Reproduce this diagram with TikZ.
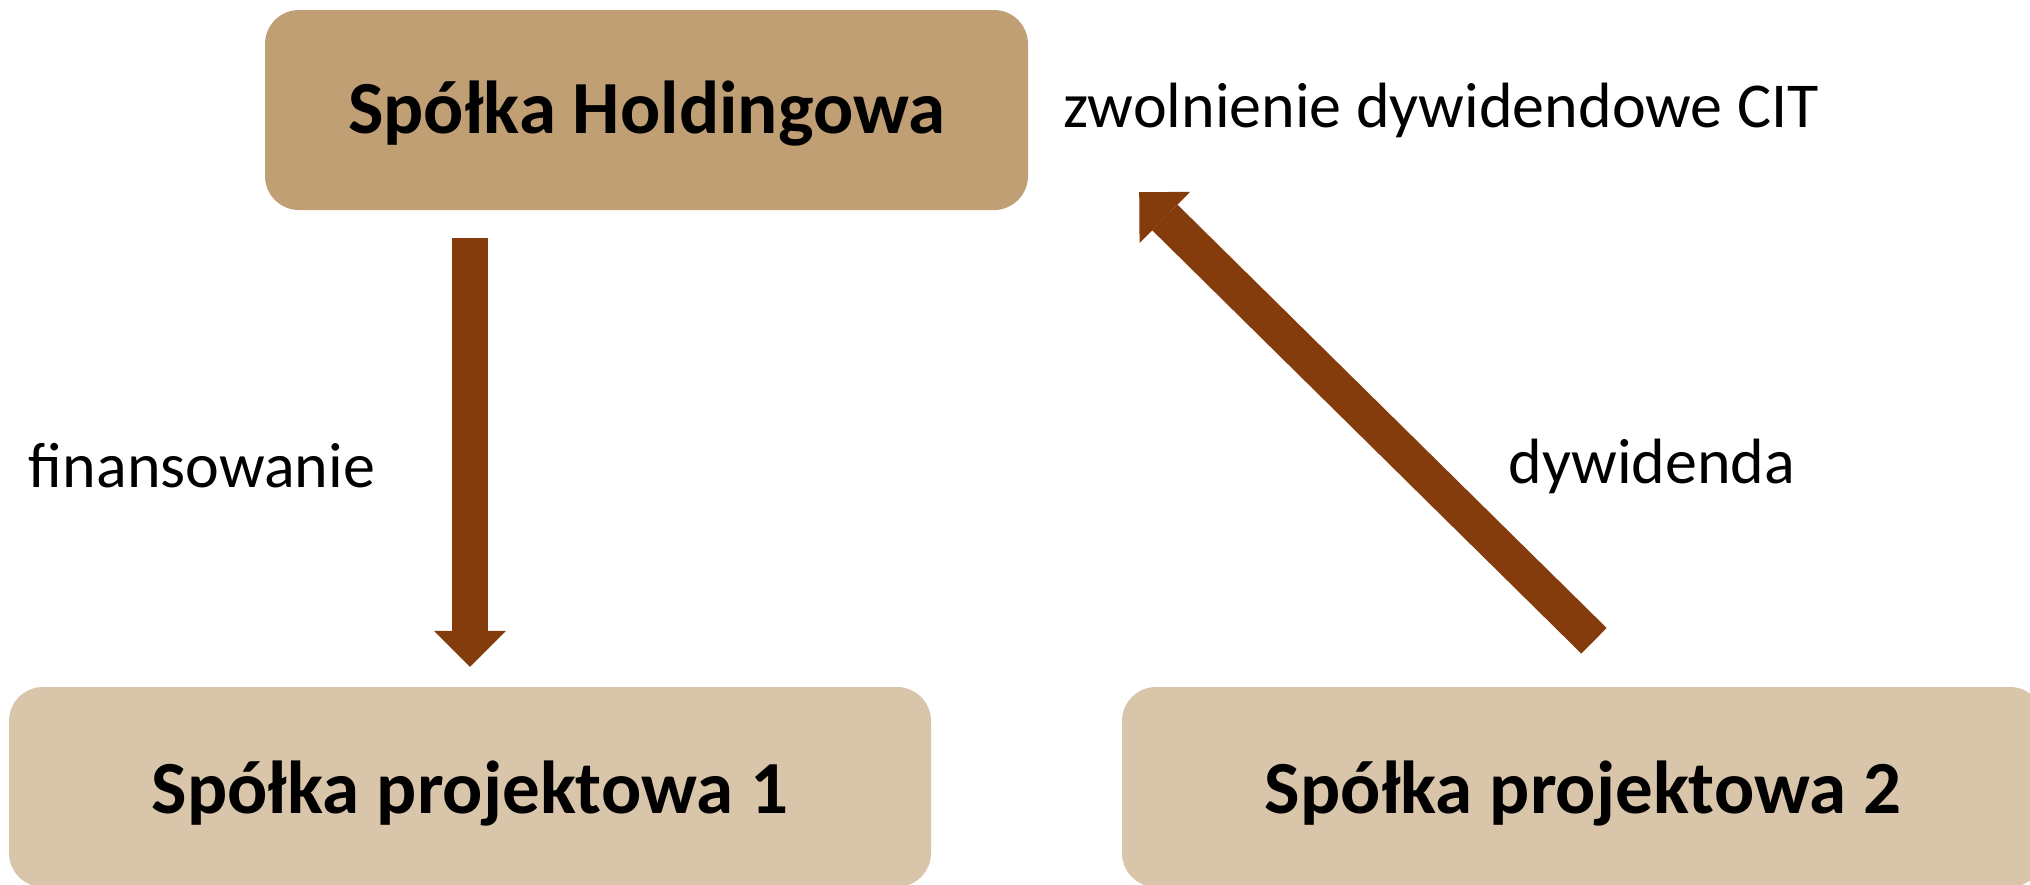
\documentclass[tikz,border=0pt]{standalone}
\usepackage{fontspec}
\setmainfont{Carlito}
\usetikzlibrary{arrows.meta,calc}
\definecolor{holdfill}{HTML}{C19F75}
\definecolor{projfill}{HTML}{D9C5A9}
\definecolor{arrowcol}{HTML}{843C0C}
\tikzset{
  holdbox/.style={fill=holdfill, draw=none, rounded corners=34pt, minimum width=763pt, minimum height=200pt, inner sep=0pt, text height=54pt, text depth=8pt, font=\fontsize{75}{90}\selectfont\bfseries},
  projbox/.style={fill=projfill, draw=none, rounded corners=34pt, minimum width=922pt, minimum height=200pt, inner sep=0pt, text height=60pt, text depth=8pt, font=\fontsize{75}{90}\selectfont\bfseries},
  lbl/.style={inner sep=0pt, font=\fontsize{64}{76}\selectfont},
  blockarrow/.style={draw=arrowcol, line width=36pt, -{Triangle[length=36pt, width=72pt, line width=0pt, fill=arrowcol]}}
}
\begin{document}
\begin{tikzpicture}[x=1pt, y=-1pt]
\useasboundingbox (0,0) rectangle (2030,884);
\node[holdbox] (hold) at (646.5,110) {Spółka Holdingowa};
\node[projbox] (p1) at (470,787) {Spółka projektowa 1};
\node[projbox] (p2) at (1583,787) {Spółka projektowa 2};
\coordinate (d1s) at ([yshift=-28pt]p1.north |- hold.south);
\coordinate (d1e) at ([yshift=20pt]p1.north);
\coordinate (d2s) at ([shift={(11pt,46pt)}]p2.north);
\coordinate (d2e) at ([shift={(111pt,18pt)}]hold.south east);
\draw[blockarrow] (d1s) -- (d1e);
\draw[blockarrow] (d2s) -- (d2e);
\node[lbl] (fin) at (202,466) {finansowanie};
\node[lbl] (dyw) at (1652,466) {dywidenda};
\node[lbl] (zw) at (1441,110) {zwolnienie dywidendowe CIT};
\end{tikzpicture}
\end{document}
